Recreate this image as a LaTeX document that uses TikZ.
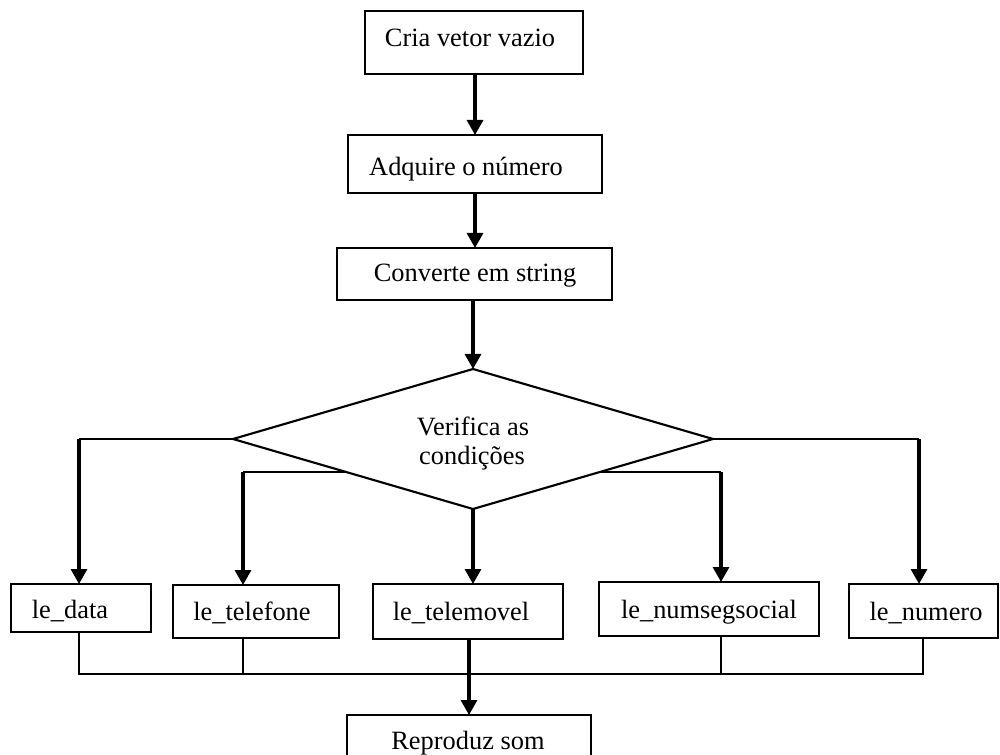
\documentclass[tikz,border=0pt]{standalone}
\usepackage{fontspec}
\setmainfont{Liberation Serif}
\usetikzlibrary{arrows.meta,shapes.geometric,calc}
\newcommand\pxu[1]{#1*0.75pt}
\begin{document}
\begin{tikzpicture}[x=0.75pt,y=-0.75pt,
  box/.style={draw, line width=1.6pt, rectangle, inner sep=0pt, outer sep=0pt},
  txt/.style={anchor=base, inner sep=0pt, font=\fontsize{19.8}{24}\selectfont},
  arr/.style={line width=2.4pt, -{Triangle[length=11.25pt,width=12pt]}},
  link/.style={line width=1.7pt}]
\useasboundingbox (0,0) rectangle (1000,755);
\clip (0,0) rectangle (1000,755);

% process boxes
\node[box, minimum width=\pxu{218}, minimum height=\pxu{63}] (cria) at (474,42.5) {};
\node[box, minimum width=\pxu{254}, minimum height=\pxu{58}] (adq) at (475,164) {};
\node[box, minimum width=\pxu{275}, minimum height=\pxu{52}] (conv) at (474.5,274) {};
\node[diamond, draw, line width=1.6pt, inner sep=0pt, outer sep=0pt,
      minimum width=\pxu{480}, minimum height=\pxu{140}] (d) at (473,439) {};

\node[box, minimum width=\pxu{140}, minimum height=\pxu{48}] (data) at (81,608) {};
\node[box, minimum width=\pxu{166}, minimum height=\pxu{53}] (tel) at (256,611.5) {};
\node[box, minimum width=\pxu{190}, minimum height=\pxu{55}] (telm) at (468,611.5) {};
\node[box, minimum width=\pxu{220}, minimum height=\pxu{54}] (nss) at (709,609) {};
\node[box, minimum width=\pxu{149}, minimum height=\pxu{54}] (num) at (923.5,611) {};
\node[box, minimum width=\pxu{244}, minimum height=\pxu{60}] (rep) at (469,745) {};

% labels
\node[txt] (cria-t) at (470,47) {Cria vetor vazio};
\node[txt] (adq-t) at (466,176) {Adquire o número};
\node[txt] (conv-t) at (475,282) {Converte em string};
\node[txt] (d-t1) at (473,436) {Verifica as};
\node[txt] (d-t2) at (472,465) {condições};
\node[txt] (data-t) at (70,618) {le\_data};
\node[txt] (tel-t) at (252,620) {le\_telefone};
\node[txt] (telm-t) at (461,620) {le\_telemovel};
\node[txt] (nss-t) at (709,618) {le\_numsegsocial};
\node[txt] (num-t) at (926,620) {le\_numero};
\node[txt] (rep-t) at (468,749) {Reproduz som};

% main flow
\draw[arr] (cria.south -| 475,0) -- (adq.north -| 475,0);
\draw[arr] (adq.south -| 475,0) -- (conv.north -| 475,0);
\draw[arr] (d.north |- conv.south) -- (d.north);

% branch points on the diamond
\coordinate (bl) at ($(d.west)!0.471!(d.south)$);
\coordinate (br) at ($(d.east)!0.471!(d.south)$);
\coordinate (x-data) at ($(data.north)+(-2,0)$);
\coordinate (x-tel) at ($(tel.north)+(-13,0)$);
\coordinate (x-nss) at ($(nss.north)+(12,0)$);
\coordinate (x-num) at ($(num.north)+(-4.5,0)$);

\draw[link] (d.west) -- (d.west -| x-data);
\draw[arr] (d.west -| x-data) -- (x-data);
\draw[link] (bl) -- (bl -| x-tel);
\draw[arr] (bl -| x-tel) -- (x-tel);
\draw[arr] (d.south) -- (d.south |- telm.north);
\draw[link] (br) -- (br -| x-nss);
\draw[arr] (br -| x-nss) -- (x-nss);
\draw[link] (d.east) -- (d.east -| x-num);
\draw[arr] (d.east -| x-num) -- (x-num);

% collecting bus
\coordinate (busL) at ($(data.south)+(-2,42)$);
\coordinate (busR) at ($(num.south)+(-0.5,36)$);
\draw[link] (busL |- data.south) -- (busL) -- (busR) -- (busR |- num.south);
\draw[link] (x-tel |- tel.south) -- (x-tel |- busL);
\draw[link] (x-nss |- nss.south) -- (x-nss |- busL);
\draw[arr] (rep.north |- telm.south) -- (rep.north);
\end{tikzpicture}
\end{document}
